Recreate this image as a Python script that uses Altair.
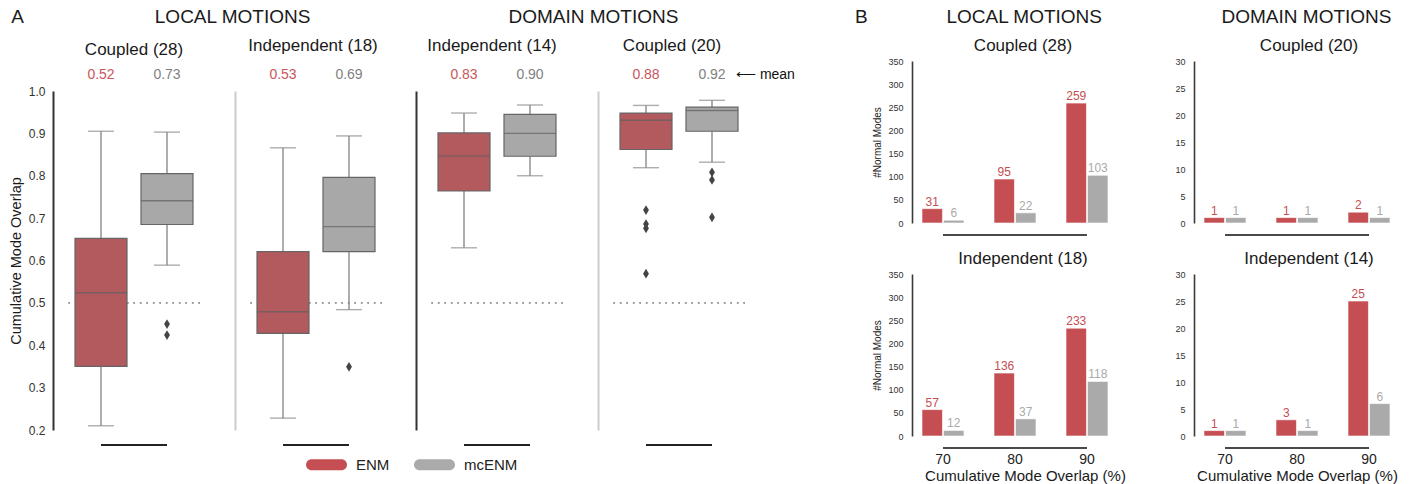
import altair as alt
import pandas as pd

METHODS = ["ENM", "mcENM"]

# ---- Panel A: cumulative mode overlap per protein (box-plot summaries) ----
box_titles = ["Coupled (28)", "Independent (18)", "Independent (14)", "Coupled (20)"]

enm_low = [0.21, 0.228, 0.63, 0.819]
enm_q1 = [0.35, 0.428, 0.764, 0.862]
enm_median = [0.524, 0.479, 0.847, 0.931]
enm_q3 = [0.652, 0.621, 0.901, 0.948]
enm_high = [0.905, 0.866, 0.948, 0.966]
enm_mean = [0.52, 0.53, 0.83, 0.88]
enm_outliers = [[], [], [], [0.719, 0.686, 0.676, 0.569]]

mc_low = [0.589, 0.484, 0.80, 0.832]
mc_q1 = [0.685, 0.621, 0.846, 0.905]
mc_median = [0.741, 0.68, 0.90, 0.954]
mc_q3 = [0.805, 0.796, 0.945, 0.962]
mc_high = [0.903, 0.894, 0.967, 0.978]
mc_mean = [0.73, 0.69, 0.90, 0.92]
mc_outliers = [[0.45, 0.424], [0.349], [], [0.808, 0.79, 0.702]]

# ---- Panel B: number of normal modes reaching each overlap threshold ----
overlap_levels = ["70", "80", "90"]
local_coupled_enm = [31, 95, 259]
local_coupled_mc = [6, 22, 103]
local_indep_enm = [57, 136, 233]
local_indep_mc = [12, 37, 118]
domain_coupled_enm = [1, 1, 2]
domain_coupled_mc = [1, 1, 1]
domain_indep_enm = [1, 3, 25]
domain_indep_mc = [1, 1, 6]

FONT = "Liberation Sans"
RED = "#c44e52"
GREY = "#aaaaaa"
BOX_RED, BOX_GREY = "#b35a5f", "#a8a8a8"
MEAN_GREY = "#7f7f7f"
DARK_SPINE = "#333333"
LIGHT_SPINE = "#cccccc"

THIN_DIAMOND = "M0,-1L0.6,0L0,1L-0.6,0Z"
PILL = ("M-0.73,-0.27L0.73,-0.27A0.27,0.27,0,0,1,0.73,0.27"
        "L-0.73,0.27A0.27,0.27,0,0,1,-0.73,-0.27Z")

# box panels: the plotting band sits A_TOP px below the top of each view
A_W, A_H, A_TOP = 132, 339, 30
A_VIEW_H = A_H + A_TOP
B_W, B_H = 206, 162

LEGEND = alt.Legend(
    orient="none", legendX=238, legendY=383, direction="horizontal", title=None,
    symbolType=PILL, symbolSize=1681, symbolStrokeWidth=0, symbolOpacity=1,
    labelFontSize=15, labelColor="#222222", labelOffset=9, columnPadding=24,
)


def method_color(red, grey):
    return alt.condition(alt.datum.method == "ENM", alt.value(red), alt.value(grey))


def box_panel(i, spine_color, title_dx, title_offset):
    summary = pd.DataFrame({
        "method": METHODS,
        "low": [enm_low[i], mc_low[i]],
        "q1": [enm_q1[i], mc_q1[i]],
        "median": [enm_median[i], mc_median[i]],
        "q3": [enm_q3[i], mc_q3[i]],
        "high": [enm_high[i], mc_high[i]],
        "mean": [enm_mean[i], mc_mean[i]],
    })
    fliers = pd.DataFrame(
        [{"method": "ENM", "value": v} for v in enm_outliers[i]]
        + [{"method": "mcENM", "value": v} for v in mc_outliers[i]],
        columns=["method", "value"],
    )
    y_scale = alt.Scale(domain=[0.2, 1.0], range=[A_VIEW_H, A_TOP], nice=False, zero=False)
    x_scale = alt.Scale(domain=METHODS, paddingInner=0, paddingOuter=0)
    if i == 0:
        y_axis = alt.Axis(
            title="Cumulative Mode Overlap", values=[0.2, 0.3, 0.4, 0.5, 0.6, 0.7, 0.8, 0.9, 1.0],
            format=".1f", offset=15, ticks=False, grid=False, domainColor=spine_color,
            domainWidth=2, labelFontSize=12, labelPadding=8, labelColor="#333333",
            titleFontSize=14.5, titlePadding=5, titleColor="#1a1a1a", titleFontWeight="normal",
        )
    else:
        y_axis = alt.Axis(title=None, labels=False, ticks=False, grid=False, offset=15,
                          domainColor=spine_color, domainWidth=2)

    def Y(field):
        return alt.Y(f"{field}:Q", scale=y_scale, axis=y_axis)

    def Ydatum(v):
        return alt.YDatum(v, type="quantitative", scale=y_scale, axis=y_axis)

    x = alt.X("method:N", scale=x_scale, axis=None)
    base = alt.Chart(summary)

    half_line = base.mark_rule(color="#9a9a9a", strokeWidth=1.6, strokeDash=[1.6, 4.9]).encode(
        y=Ydatum(0.5))
    whisk_hi = base.mark_rule(color="#8a8a8a", strokeWidth=1.4).encode(x=x, y=Y("q3"), y2="high")
    whisk_lo = base.mark_rule(color="#8a8a8a", strokeWidth=1.4).encode(x=x, y=Y("low"), y2="q1")
    cap_hi = base.mark_tick(color="#8a8a8a", thickness=1.4, size=26).encode(x=x, y=Y("high"))
    cap_lo = base.mark_tick(color="#8a8a8a", thickness=1.4, size=26).encode(x=x, y=Y("low"))
    box = base.mark_bar(size=52, stroke="#666666", strokeWidth=1.2).encode(
        x=x, y=Y("q1"), y2="q3", fill=method_color(BOX_RED, BOX_GREY))
    med = base.mark_tick(color="#5f5f5f", thickness=1.4, size=52).encode(x=x, y=Y("median"))
    means = base.mark_text(fontSize=14, dy=-16).encode(
        x=x, y=Ydatum(1.0), text=alt.Text("mean:Q", format=".2f"),
        color=method_color("#c9555a", MEAN_GREY),
    )
    # short bottom spine running from the first to the last category
    trim_axis = base.mark_line(color="#222222", strokeWidth=2.2).encode(
        x=x, y=alt.value(A_VIEW_H + 15))
    layers = [half_line, whisk_hi, whisk_lo, cap_hi, cap_lo, box, med, means, trim_axis]
    if len(fliers):
        layers.append(
            alt.Chart(fliers).mark_point(shape=THIN_DIAMOND, filled=True, size=95,
                                         color="#444444", opacity=1).encode(x=x, y=Y("value"))
        )
    if i == 3:
        note = pd.DataFrame({"note": ["\u27f5 mean"]})
        layers.append(
            alt.Chart(note).mark_text(align="left", fontSize=14, dy=-16, color="#111111").encode(
                x=alt.value(123), y=Ydatum(1.0), text="note:N")
        )
    return alt.layer(*layers).properties(
        width=A_W, height=A_VIEW_H,
        title=alt.TitleParams(box_titles[i], fontSize=17, frame="group", dx=title_dx,
                              offset=title_offset),
    )


def bar_panel(title, enm, mc, y_max, y_step, left_col, bottom_row, title_dx, xlabel_x):
    counts = pd.DataFrame({
        "level": overlap_levels * 2,
        "method": ["ENM"] * 3 + ["mcENM"] * 3,
        "count": enm + mc,
    })
    x_scale = alt.Scale(domain=overlap_levels, paddingInner=0.417, paddingOuter=0.139)
    if bottom_row:
        x_axis = alt.Axis(title="Cumulative Mode Overlap (%)", labelAngle=0, domain=False,
                          ticks=False, labelFontSize=14, labelPadding=16, labelColor="#222222",
                          titleFontSize=15, titlePadding=2, titleColor="#1a1a1a",
                          titleFontWeight="normal", titleX=xlabel_x)
    else:
        x_axis = None
    y_scale = alt.Scale(domain=[0, y_max], nice=False, zero=True)
    y_axis = alt.Axis(
        title="#Normal Modes" if left_col else None,
        values=list(range(0, y_max + 1, y_step)), ticks=False, grid=False,
        domainColor="#3a3a3a", domainWidth=1.6, labelFontSize=9, labelPadding=9,
        labelColor="#333333", titleFontSize=10, titlePadding=5, titleColor="#222222",
        titleFontWeight="normal",
    )
    x = alt.X("level:N", scale=x_scale, axis=x_axis)
    xo = alt.XOffset("method:N", scale=alt.Scale(domain=METHODS, paddingInner=0.05))
    y = alt.Y("count:Q", scale=y_scale, axis=y_axis)
    base = alt.Chart(counts)
    bars = base.mark_bar(stroke="white", strokeWidth=0.6).encode(
        x=x, xOffset=xo, y=y,
        color=alt.Color("method:N", scale=alt.Scale(domain=METHODS, range=[RED, GREY]),
                        legend=LEGEND),
    )
    labels = base.mark_text(dy=-7, fontSize=12).encode(
        x=x, xOffset=xo, y=y, text="count:Q", color=method_color(RED, GREY))
    # short bottom spine from the 70 % group to the 90 % group
    trim_axis = alt.Chart(pd.DataFrame({"level": overlap_levels})).mark_line(
        color="#4a4a4a", strokeWidth=2).encode(x=x, y=alt.value(B_H + 12))
    return alt.layer(bars, labels, trim_axis).properties(
        width=B_W, height=B_H,
        title=alt.TitleParams(title, fontSize=17, frame="group", dx=title_dx, offset=2),
    )


def section_title(text, dx):
    return alt.TitleParams(text, fontSize=19, offset=10, dx=dx, anchor="middle")


a1 = box_panel(0, DARK_SPINE, 0, 2)
a2 = box_panel(1, LIGHT_SPINE, -3, 6)
a3 = box_panel(2, DARK_SPINE, -5, 6)
a4 = box_panel(3, LIGHT_SPINE, -7, 6)

local_a = alt.hconcat(a1, a2, spacing=34).properties(title=section_title("LOCAL MOTIONS", 37))
domain_a = alt.hconcat(a3, a4, spacing=34).properties(title=section_title("DOMAIN MOTIONS", -12))
panel_a = alt.hconcat(local_a, domain_a, spacing=33).properties(
    title=alt.TitleParams("A", anchor="start", fontSize=19, offset=-19, dx=3))

b1 = bar_panel("Coupled (28)", local_coupled_enm, local_coupled_mc, 350, 50,
               True, False, 8, 113)
b2 = bar_panel("Independent (18)", local_indep_enm, local_indep_mc, 350, 50,
               True, True, 8, 113)
b3 = bar_panel("Coupled (20)", domain_coupled_enm, domain_coupled_mc, 30, 5,
               False, False, 12, 103)
b4 = bar_panel("Independent (14)", domain_indep_enm, domain_indep_mc, 30, 5,
               False, True, 12, 103)

local_b = alt.vconcat(b1, b2, spacing=11).properties(title=section_title("LOCAL MOTIONS", 25))
domain_b = alt.vconcat(b3, b4, spacing=11).properties(title=section_title("DOMAIN MOTIONS", 19))
panel_b = alt.hconcat(local_b, domain_b, spacing=48).properties(
    title=alt.TitleParams("B", anchor="start", fontSize=19, offset=-19, dx=-18))

chart = (
    alt.hconcat(panel_a, panel_b, spacing=59)
    .properties(padding={"left": 8, "top": 8, "right": 2, "bottom": 2}, background="white")
    .configure(font=FONT)
    .configure_view(stroke=None)
    .configure_title(fontWeight="normal", color="#1a1a1a")
    .configure_axis(grid=False)
)

chart.save("out.html", embed_options={"renderer": "svg", "actions": False})
